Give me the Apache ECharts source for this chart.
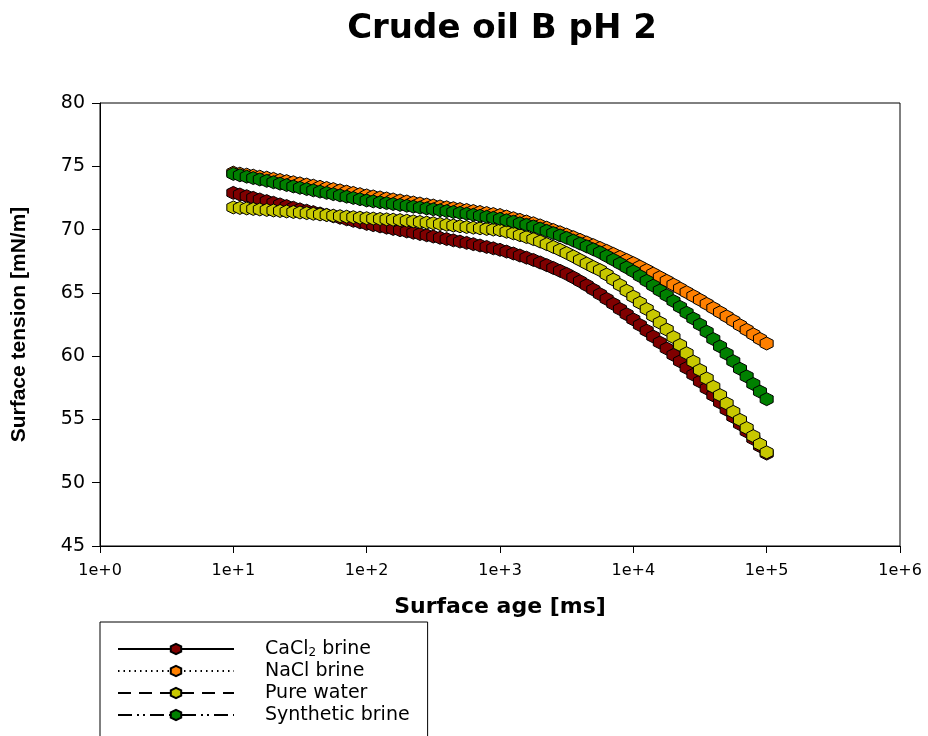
<!DOCTYPE html>
<html>
<head>
<meta charset="utf-8">
<title>Crude oil B pH 2</title>
<script src="https://cdn.jsdelivr.net/npm/echarts@6/dist/echarts.min.js"></script>
<style>
  html, body { margin: 0; padding: 0; background: #ffffff; }
  #chart { width: 928px; height: 736px; }
</style>
</head>
<body>
<div id="chart"></div>
<script>
// Surface age [ms], shared by all four dynamic surface tension runs
const ageMs = [
  10, 11.2, 12.6, 14.1, 15.8, 17.8, 20, 22.4, 25.1, 28.2, 31.6, 35.5, 39.8, 44.7, 50.1, 56.2, 63.1, 70.8, 79.4, 89.1,
  100, 112, 126, 141, 158, 178, 200, 224, 251, 282, 316, 355, 398, 447, 501, 562, 631, 708, 794, 891,
  1000, 1120, 1260, 1410, 1580, 1780, 2000, 2240, 2510, 2820, 3160, 3550, 3980, 4470, 5010, 5620, 6310, 7080, 7940, 8910,
  10000, 11200, 12600, 14100, 15800, 17800, 20000, 22400, 25100, 28200, 31600, 35500, 39800, 44700, 50100, 56200, 63100, 70800, 79400, 89100,
  100000
];

// Surface tension [mN/m]
const cacl2Brine = [
  72.90, 72.77, 72.64, 72.51, 72.38, 72.25, 72.12, 71.99, 71.86, 71.73, 71.60, 71.49, 71.38, 71.27, 71.16, 71.05, 70.93, 70.81, 70.69, 70.57,
  70.45, 70.35, 70.25, 70.15, 70.05, 69.95, 69.85, 69.75, 69.65, 69.55, 69.45, 69.35, 69.25, 69.15, 69.05, 68.95, 68.85, 68.74, 68.63, 68.52,
  68.40, 68.26, 68.11, 67.95, 67.78, 67.60, 67.40, 67.19, 66.97, 66.74, 66.50, 66.22, 65.92, 65.60, 65.26, 64.90, 64.52, 64.13, 63.72, 63.31,
  62.90, 62.46, 62.01, 61.55, 61.08, 60.60, 60.10, 59.59, 59.07, 58.54, 58.00, 57.45, 56.90, 56.34, 55.77, 55.20, 54.63, 54.05, 53.47, 52.89,
  52.30
];
const naclBrine = [
  74.50, 74.42, 74.34, 74.26, 74.18, 74.10, 74.01, 73.92, 73.83, 73.74, 73.65, 73.56, 73.47, 73.38, 73.29, 73.20, 73.10, 73.00, 72.90, 72.80,
  72.70, 72.62, 72.54, 72.46, 72.38, 72.30, 72.22, 72.14, 72.06, 71.98, 71.90, 71.83, 71.76, 71.69, 71.62, 71.55, 71.47, 71.39, 71.31, 71.23,
  71.15, 71.03, 70.90, 70.77, 70.64, 70.50, 70.33, 70.15, 69.97, 69.79, 69.60, 69.40, 69.19, 68.98, 68.77, 68.55, 68.32, 68.08, 67.84, 67.60,
  67.35, 67.08, 66.80, 66.52, 66.24, 65.95, 65.65, 65.35, 65.05, 64.75, 64.45, 64.13, 63.80, 63.47, 63.14, 62.80, 62.44, 62.08, 61.72, 61.36,
  61.00
];
const pureWater = [
  71.75, 71.71, 71.67, 71.63, 71.59, 71.55, 71.51, 71.47, 71.43, 71.39, 71.35, 71.30, 71.25, 71.20, 71.15, 71.10, 71.06, 71.02, 70.98, 70.94,
  70.90, 70.87, 70.84, 70.81, 70.78, 70.75, 70.70, 70.65, 70.60, 70.55, 70.50, 70.44, 70.38, 70.32, 70.26, 70.20, 70.15, 70.10, 70.05, 70.00,
  69.95, 69.83, 69.70, 69.56, 69.41, 69.25, 69.06, 68.85, 68.63, 68.40, 68.15, 67.88, 67.60, 67.32, 67.05, 66.80, 66.45, 66.05, 65.62, 65.17,
  64.70, 64.22, 63.72, 63.19, 62.65, 62.10, 61.50, 60.88, 60.23, 59.57, 58.90, 58.24, 57.58, 56.92, 56.26, 55.60, 54.96, 54.32, 53.68, 53.04,
  52.40
];
const syntheticBrine = [
  74.40, 74.29, 74.18, 74.07, 73.96, 73.85, 73.74, 73.63, 73.52, 73.41, 73.30, 73.20, 73.10, 73.00, 72.90, 72.80, 72.70, 72.60, 72.50, 72.40,
  72.30, 72.23, 72.16, 72.09, 72.02, 71.95, 71.88, 71.81, 71.74, 71.67, 71.60, 71.53, 71.46, 71.39, 71.32, 71.25, 71.17, 71.09, 71.01, 70.93,
  70.85, 70.74, 70.62, 70.50, 70.38, 70.25, 70.08, 69.90, 69.72, 69.54, 69.35, 69.13, 68.90, 68.67, 68.44, 68.20, 67.91, 67.62, 67.32, 67.01,
  66.70, 66.33, 65.95, 65.57, 65.19, 64.80, 64.35, 63.89, 63.43, 62.97, 62.50, 61.93, 61.35, 60.77, 60.19, 59.60, 59.00, 58.40, 57.80, 57.20,
  56.60
];

const seriesNames = ['CaCl2 brine', 'NaCl brine', 'Pure water', 'Synthetic brine'];
const seriesValues = [cacl2Brine, naclBrine, pureWater, syntheticBrine];
const fillColors = ['#800000', '#ff8000', '#c8c800', '#008000'];
const lineTypes = ['solid', [1.5, 4], [13, 8], [14, 5, 2, 4, 2, 5]];

// pointy-top hexagon marker
const hexagon = 'path://M0,-1L0.866,-0.5L0.866,0.5L0,1L-0.866,0.5L-0.866,-0.5Z';

const chart = echarts.init(document.getElementById('chart'), null, { renderer: 'canvas' });

const series = seriesNames.map((name, k) => ({
  name: name,
  type: 'line',
  data: ageMs.map((t, i) => [t, seriesValues[k][i]]),
  symbol: hexagon,
  symbolSize: [13, 13],
  showAllSymbol: true,
  animation: false,
  itemStyle: { color: fillColors[k], borderColor: '#000000', borderWidth: 1 },
  lineStyle: { color: '#000000', width: 1, type: lineTypes[k] },
  emphasis: { disabled: true }
}));

chart.setOption({
  backgroundColor: '#ffffff',
  animation: false,
  title: {
    text: 'Crude oil B pH 2',
    left: 497,
    textAlign: 'center',
    top: 7,
    textStyle: { fontFamily: 'DejaVu Sans', fontWeight: 'bold', fontSize: 34, color: '#000000' }
  },
  grid: {
    left: 100, right: 28, top: 103, bottom: 190,
    outerBoundsMode: 'none',
    containLabel: false,
    show: true, borderColor: '#000000', borderWidth: 1, backgroundColor: 'transparent'
  },
  legend: {
    orient: 'vertical',
    left: 100,
    top: 622,
    height: 300,
    itemWidth: 116,
    itemHeight: 13,
    itemGap: 2,
    padding: [16, 18, 30, 17],
    borderColor: '#000000',
    borderWidth: 1,
    backgroundColor: '#ffffff',
    selectedMode: false,
    data: seriesNames,
    formatter: function (name) {
      return name === 'CaCl2 brine' ? 'CaCl{sub|2} brine' : name;
    },
    textStyle: {
      fontFamily: 'DejaVu Sans',
      fontSize: 19,
      lineHeight: 20,
      color: '#000000',
      padding: [0, 0, 0, 26],
      rich: {
        sub: { fontFamily: 'DejaVu Sans', fontSize: 12, lineHeight: 20, verticalAlign: 'bottom', padding: [9, 0, 0, 0] }
      }
    }
  },
  xAxis: {
    type: 'log',
    logBase: 10,
    min: 1,
    max: 1000000,
    name: 'Surface age [ms]',
    nameLocation: 'middle',
    nameGap: 50,
    nameTextStyle: { fontFamily: 'DejaVu Sans', fontWeight: 'bold', fontSize: 22, color: '#000000' },
    axisLine: { lineStyle: { color: '#000000', width: 1 } },
    axisTick: { show: true, inside: false, length: 7, lineStyle: { color: '#000000' } },
    minorTick: { show: false },
    splitLine: { show: false },
    axisLabel: {
      margin: 17,
      fontFamily: 'DejaVu Sans',
      fontSize: 16,
      color: '#000000',
      formatter: function (v) { return '1e+' + Math.round(Math.log10(v)); }
    }
  },
  yAxis: {
    type: 'value',
    min: 45,
    max: 80,
    interval: 5,
    name: 'Surface tension [mN/m]',
    nameLocation: 'middle',
    nameGap: 70,
    nameRotate: 90,
    nameTextStyle: { fontFamily: 'Liberation Sans', fontWeight: 'bold', fontSize: 21, color: '#000000' },
    axisLine: { show: true, lineStyle: { color: '#000000', width: 1 } },
    axisTick: { show: true, inside: false, length: 8, lineStyle: { color: '#000000' } },
    splitLine: { show: false },
    axisLabel: {
      margin: 15,
      fontFamily: 'DejaVu Sans',
      fontSize: 19,
      color: '#000000'
    }
  },
  series: series
});
</script>
</body>
</html>
